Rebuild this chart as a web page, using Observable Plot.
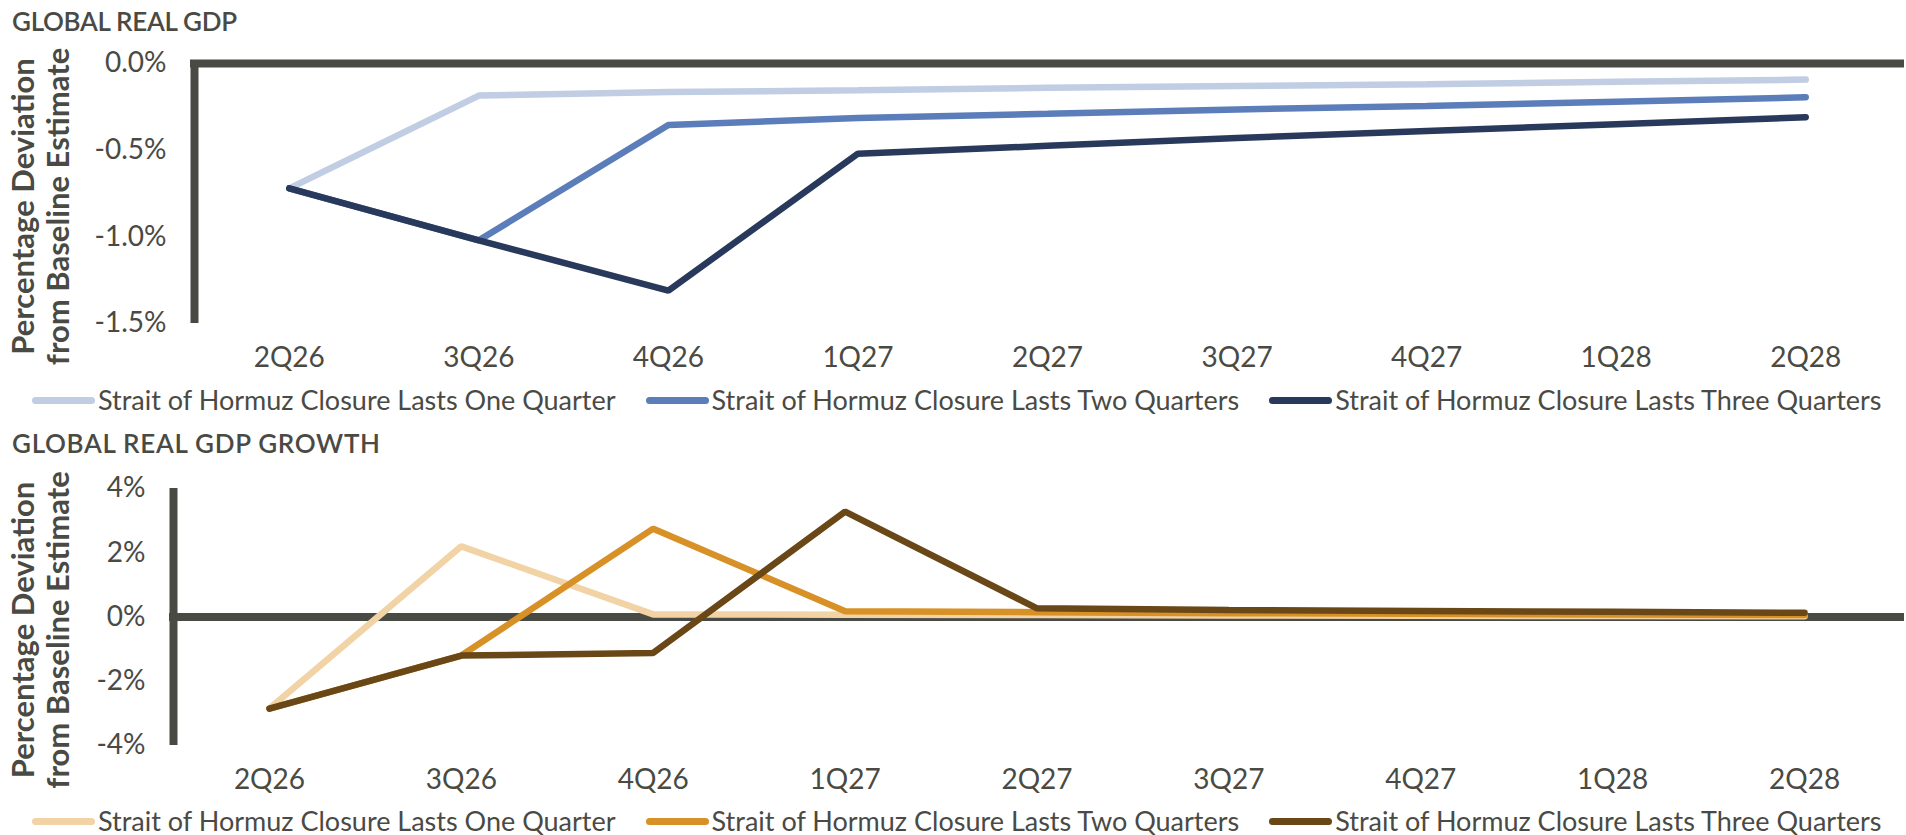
<!DOCTYPE html>
<html><head><meta charset="utf-8">
<script src="https://cdn.jsdelivr.net/npm/d3@7"></script>
<script src="https://cdn.jsdelivr.net/npm/@observablehq/plot@0.6"></script>
<style>
body{margin:0;background:#fff;width:1906px;height:835px;overflow:hidden;font-family:Lato,sans-serif;color:#4a4a44;position:relative}
.title{position:absolute;left:12px;font-size:26px;font-weight:600;line-height:26px;white-space:nowrap}
.chart{position:absolute;left:0}
.legend{position:absolute;left:32px;display:flex;align-items:center;font-size:27px;line-height:30px;white-space:nowrap}
.legend .item{display:flex;align-items:center;margin-right:30px}
.legend .sw{width:63px;height:7px;border-radius:4px;margin-right:3px}
</style></head><body>
<div class="title" style="top:8px;letter-spacing:-0.3px">GLOBAL REAL GDP</div>
<div class="chart" id="c1" style="top:40px"></div>
<div class="legend" id="l1" style="top:385px"></div>
<div class="title" style="top:430px;letter-spacing:0.7px">GLOBAL REAL GDP GROWTH</div>
<div class="chart" id="c2" style="top:460px"></div>
<div class="legend" id="l2" style="top:806px"></div>
<script>
const quarters = ["2Q26","3Q26","4Q26","1Q27","2Q27","3Q27","4Q27","1Q28","2Q28"];
const seriesNames = ["Strait of Hormuz Closure Lasts One Quarter","Strait of Hormuz Closure Lasts Two Quarters","Strait of Hormuz Closure Lasts Three Quarters"];
const gdpOne = [-0.72,-0.185,-0.165,-0.155,-0.14,-0.13,-0.12,-0.105,-0.093];
const gdpTwo = [-0.72,-1.02,-0.355,-0.315,-0.29,-0.265,-0.245,-0.22,-0.195];
const gdpThree = [-0.72,-1.02,-1.31,-0.52,-0.475,-0.43,-0.39,-0.35,-0.31];
const growthOne = [-2.85,2.2,0.08,0.07,0.06,0.05,0.04,0.03,0.02];
const growthTwo = [-2.85,-1.2,2.75,0.18,0.15,0.12,0.1,0.08,0.06];
const growthThree = [-2.85,-1.2,-1.12,3.28,0.27,0.22,0.19,0.16,0.13];
const gdpTicks = [0,-0.5,-1,-1.5];
const growthTicks = [4,2,0,-2,-4];
const gdpColors = ["#c0cde3","#5b7db9","#29395b"];
const growthColors = ["#f1d3a6","#d89127","#6a4716"];
const axisColor = "#4a4a44";
const yTitle = "Percentage Deviation\nfrom Baseline Estimate";

function rows(arr){ return arr.map((v,i)=>({i, v})); }

function chart({series, colors, ticks, fmt, domain, marginLeft, marginTop, marginBottom, height}){
  return Plot.plot({
    width: 1906, height,
    marginLeft, marginRight: 6, marginTop, marginBottom,
    x: {domain: [-0.5, quarters.length - 0.5], axis: null},
    y: {domain, axis: null},
    style: {fontFamily: "Lato, sans-serif", color: axisColor, background: "transparent", overflow: "visible"},
    marks: [
      Plot.axisY(ticks, {tickSize: 0, tickPadding: 28, fontSize: 28, tickFormat: fmt, fill: axisColor, label: null}),
      Plot.axisX(d3.range(quarters.length), {tickSize: 0, tickPadding: 24, fontSize: 28, tickFormat: i => quarters[i], fill: axisColor, label: null}),
      Plot.ruleX([-0.5], {y1: domain[0], y2: domain[1], stroke: axisColor, strokeWidth: 8}),
      Plot.ruleY([0], {x1: -0.5, x2: quarters.length - 0.5, stroke: axisColor, strokeWidth: 8, strokeLinecap: "square"}),
      ...series.map((s, k) => Plot.line(rows(s), {x: "i", y: "v", stroke: colors[k], strokeWidth: 6.5, strokeLinecap: "round", strokeLinejoin: "miter"})),
      Plot.text([yTitle], {x: () => -0.5, y: () => (domain[0] + domain[1]) / 2, rotate: -90, textAnchor: "middle", lineAnchor: "middle", dx: 40 - marginLeft, dy: 13, fontSize: 31, fontWeight: 700, fill: axisColor, lineHeight: 1.12})
    ]
  });
}

document.getElementById("c1").append(chart({
  series: [gdpOne, gdpTwo, gdpThree], colors: gdpColors, ticks: gdpTicks,
  fmt: d => d.toFixed(1) + "%", domain: [-1.5, 0], marginLeft: 194, marginTop: 23, marginBottom: 62, height: 345
}));
document.getElementById("c2").append(chart({
  series: [growthOne, growthTwo, growthThree], colors: growthColors, ticks: growthTicks,
  fmt: d => d + "%", domain: [-4, 4], marginLeft: 173, marginTop: 28, marginBottom: 60, height: 345
}));

function legend(id, colors){
  const el = document.getElementById(id);
  seriesNames.forEach((name, k) => {
    const item = document.createElement("div"); item.className = "item";
    const sw = document.createElement("div"); sw.className = "sw"; sw.style.background = colors[k];
    const t = document.createElement("span"); t.textContent = name;
    item.append(sw, t); el.append(item);
  });
}
legend("l1", gdpColors);
legend("l2", growthColors);
</script>
</body></html>
